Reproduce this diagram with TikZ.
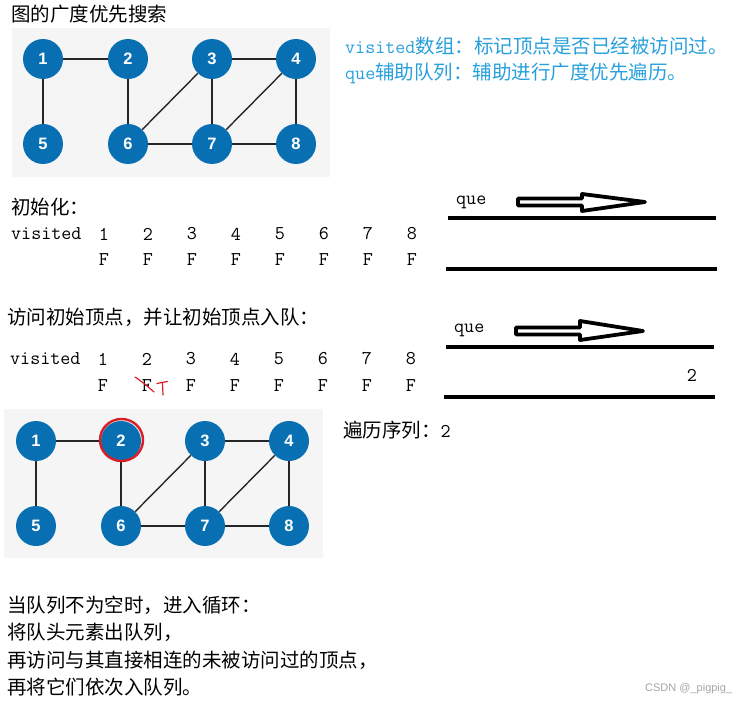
\documentclass[tikz,border=0pt]{standalone}
\usepackage{fontspec}
\newfontfamily\cjk{Noto Sans CJK SC}
\newfontfamily\lsans{Liberation Sans}
\newcommand\szA{\fontsize{19.5}{24}\selectfont}
\definecolor{nodeblue}{RGB}{8,112,178}
\definecolor{noteblue}{RGB}{40,160,220}
\definecolor{bggray}{RGB}{245,245,245}
\definecolor{penred}{RGB}{218,30,40}
\tikzset{
  vtx/.style={circle, fill=nodeblue, minimum size=40pt, inner sep=0pt, text=white,
    font=\lsans\bfseries\fontsize{16.5}{16.5}\selectfont},
  gedge/.style={line width=1.4pt, black!85},
  txt/.style={anchor=west, inner sep=0pt, font=\cjk\szA},
  tt/.style={inner sep=0pt, font=\ttfamily\szA},
  qline/.style={line width=4pt},
  qarrow/.style={line width=3.8pt, line join=round, line cap=round, fill=white},
  redpen/.style={penred, line width=1.2pt, line cap=round, line join=round},
  bgbox/.style={fill=bggray, draw=none}
}
\begin{document}
\begin{tikzpicture}[x=1pt,y=-1pt]
\useasboundingbox (0,0) rectangle (749,701);
\fill[white] (0,0) rectangle (749,701);

% title
\node[txt] (title) at (11,14) {图的广度优先搜索};

% graph 1
\fill[bgbox] (12,28) rectangle (330,177);
\foreach \n/\x/\y in {1/43/59, 2/128/59, 3/212/59, 4/296/59, 5/43/144, 6/128/144, 7/212/144, 8/296/144}
  \node[vtx] (a\n) at (\x,\y) {\n};
\foreach \u/\v in {1/2,1/5,2/6,3/4,3/6,3/7,4/7,4/8,6/7,7/8}
  \draw[gedge] (a\u) -- (a\v);

% notes
\node[txt, text=noteblue] (note1) at (345,46) {{\ttfamily visited}数组：标记顶点是否已经被访问过。};
\node[txt, text=noteblue] (note2) at (345,73) {{\ttfamily que}辅助队列：辅助进行广度优先遍历。};

% init
\node[txt] (init) at (11,207) {初始化：};
\node[tt, anchor=west] (vis1) at (11,234) {visited};
\foreach \i/\x in {1/104,2/148,3/192,4/236,5/280,6/324,7/368,8/412} {
  \node[tt] (n1\i) at (\x,234) {\i};
  \node[tt] (f1\i) at (\x,260) {F};
}

% queue 1
\node[tt, anchor=west] (que1) at (456,202) {que};
\draw[qline] (448,218) coordinate (q1a) -- (716,218) coordinate (q1b);
\draw[qline] (446,269) coordinate (q1c) -- (717,269) coordinate (q1d);
\draw[qarrow] (518,198.5) -- (582,198.5) -- (582,194) -- (645,202) -- (582,211) -- (582,205.5) -- (518,205.5) -- cycle;

% visit start vertex
\node[txt] (visit) at (7,317) {访问初始顶点，并让初始顶点入队：};
\node[tt, anchor=west] (vis2) at (10,359) {visited};
\foreach \i/\x in {1/103,2/147,3/191,4/235,5/279,6/323,7/367,8/411} {
  \node[tt] (n2\i) at (\x,359) {\i};
  \node[tt] (f2\i) at (\x,386) {F};
}
\draw[redpen] (135,377) -- (138,379) -- (146,385) -- (154,392);
\draw[redpen] (157,383.5) -- (162,382.5) -- (167.5,381.5);
\draw[redpen] (162.5,383) -- (163,395);

% queue 2
\node[tt, anchor=west] (que2) at (454,330) {que};
\draw[qline] (446,347) coordinate (q2a) -- (714,347) coordinate (q2b);
\draw[qline] (444,397) coordinate (q2c) -- (715,397) coordinate (q2d);
\draw[qarrow] (516,327.5) -- (580,327.5) -- (580,321) -- (643,331) -- (580,340) -- (580,334.5) -- (516,334.5) -- cycle;
\node[tt] (qv2) at (692,375) {2};

% graph 2
\fill[bgbox] (4,409) rectangle (323,558);
\foreach \n/\x/\y in {1/36/441, 2/121/441, 3/205/441, 4/289/441, 5/36/526, 6/121/526, 7/205/526, 8/289/526}
  \node[vtx] (b\n) at (\x,\y) {\n};
\foreach \u/\v in {1/2,1/5,2/6,3/4,3/6,3/7,4/7,4/8,6/7,7/8}
  \draw[gedge] (b\u) -- (b\v);
\draw[penred, line width=2.4pt] (b2.center) ++(0.5,-1) ellipse [x radius=21.5, y radius=21];

\node[txt] (seq) at (343,430) {遍历序列：{\ttfamily 2}};

% loop text
\node[txt] (l1) at (7,605) {当队列不为空时，进入循环：};
\node[txt] (l2) at (7,632) {将队头元素出队列，};
\node[txt] (l3) at (7,660) {再访问与其直接相连的未被访问过的顶点，};
\node[txt] (l4) at (7,687) {再将它们依次入队列。};

\node[anchor=west, inner sep=0pt, text=black!35, font=\lsans\fontsize{11}{11}\selectfont] (wm) at (645,689) {CSDN @\_pigpig\_};
\end{tikzpicture}
\end{document}
